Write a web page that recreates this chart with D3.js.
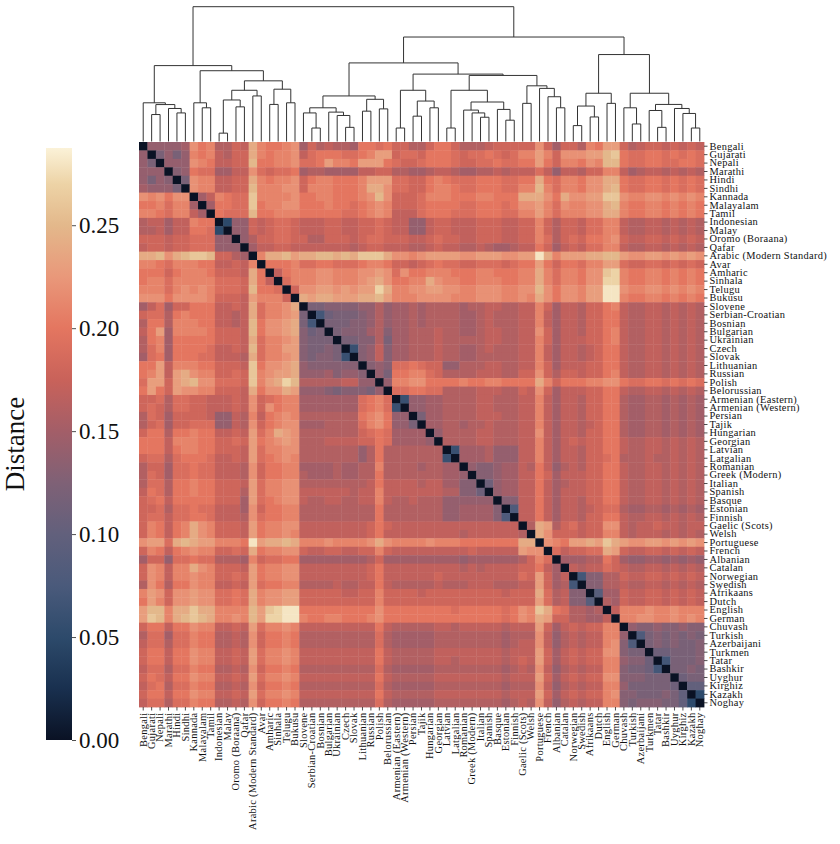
<!DOCTYPE html>
<html>
<head>
<meta charset="utf-8">
<script src="https://cdn.jsdelivr.net/npm/d3@7"></script>
<style>
  body { margin: 0; background: #fff; }
  text { font-family: "Liberation Serif", "DejaVu Serif", serif; fill: #111; }
</style>
</head>
<body>
<div id="chart"></div>
<script>
// leaf order as in the clustered heatmap
const languages = [
  "Bengali", "Gujarati", "Nepali", "Marathi", "Hindi", "Sindhi", "Kannada", "Malayalam", "Tamil",
  "Indonesian", "Malay", "Oromo (Boraana)", "Qafar", "Arabic (Modern Standard)", "Avar", "Amharic",
  "Sinhala", "Telugu", "Bukusu", "Slovene", "Serbian-Croatian", "Bosnian", "Bulgarian", "Ukrainian",
  "Czech", "Slovak", "Lithuanian", "Russian", "Polish", "Belorussian", "Armenian (Eastern)",
  "Armenian (Western)", "Persian", "Tajik", "Hungarian", "Georgian", "Latvian", "Latgalian",
  "Romanian", "Greek (Modern)", "Italian", "Spanish", "Basque", "Estonian", "Finnish",
  "Gaelic (Scots)", "Welsh", "Portuguese", "French", "Albanian", "Catalan", "Norwegian", "Swedish",
  "Afrikaans", "Dutch", "English", "German", "Chuvash", "Turkish", "Azerbaijani", "Turkmen",
  "Tatar", "Bashkir", "Uyghur", "Kirghiz", "Kazakh", "Noghay"
];

// upper triangle of the distance matrix, row i holds columns i+1..66
// one char per cell, base-36 digit = distance in hundredths (k = 0.20, p = 0.25)
const distRows = [
  "eeeef mkl gg ih ol kklm fighggf kkjk iiggik kiggghiii iimifi iglknn ighiihihih",
  "cece lkl hg ii ol kllm hjkkkjj klnn ijjikk kjijjkjij llnlim mmnnpq kjjkkjkjkj",
  "eee mlk hh ii pk kllm jjknllk nnnk jiijkk kjiijjkjj kknkil lkmlpp kjjkkjjkkj",
  "de kjj ff hh mj ijjk fggffff hhii ggffgh hgffgghgh hhjheh hgiill hfghhghghg",
  "c mll hh ii ol kllm ikllkkk lnnn jjiikl kjjjkkkjj kkokjl lkmmoo kjjkkjkjkj",
  "mll hh ii pl llmm illlkkk loom jjiikl lkjjkkkjj llpljl lkmmop kjjkkjkjkj",
  "fh lk jj ql lllm kkllkkk lmpm iiijll lkkkllkkk ooomko mmnnqq mllmmlmlml",
  "f kk jj qk llmm kkklkkj klml iiijkk kkjjkkkjk mmnljm llmmop lkkllklklk",
  "kj jj pk klll kkkkkjj klml hhhjkk kjjjkkkjj llnljl llmmoo lkkllklklk",
  "5 ee ih ijji hhhiihh iiji hheehi ihhhiiihh iiligi ihjjll hgghhghghg",
  "ee ih ijji hhhiihh iiji hheehi ihhhiiihh iiligi ihjjll hgghhghghg",
  "e gi ijji iggiiih ijji iihhij iihhiiihh iiljgi jikklm ihhiihihih",
  "fh hiih hhhhhhg hiih hhgghi hhgghgffg hhkifh ihjjll hgghhghghg",
  "l oopn ooppopo qqqo mmlmnn nnmmnnnmm nnsoln nnoopp nmmnnmnmnm",
  "kkkl jjkkjjj kllk iihijk jjiijjjij kknkik kjllnn jiijjijiji",
  "hkl llmmlll mmnm jmkkll lkkkllkkk lloljl lkmmqr lkkllklklk",
  "jl llmmlll mnom kkllom llkklllkk lloljl lkmmrr lkkllklklk",
  "i mmnnmnm nnro llmmnn mmllmmmll mmpmkm mlnnss mllmmlmlml",
  "onoonnn oopn lllmmm mlllmmmll mlomkm mlnnss lkkllklklk",
  "ccdddd eege ffgfgg ggfgghhgg hhlifh hgiikl hgghhghghg",
  "7bccc dege ffgfgg ggffghggg hhlhfh hgiikk hgghhghghg",
  "cccd dege ffgfgg ggffghggg hhlhfh hgiikk hgghhghghg",
  "cdd dfgd ffgggh ggffghhgg hhmifh hgiikl hgghhghghg",
  "cc ddgc ffgggh ggggghhgg hhlifh hhiikl hgghhghghg",
  "6 dehd ffgggh ggffghggg hhlhfh hghikk hgghhghghg",
  "dehd ffgggh ggffggggg hhlhfh hghikk hgghhghghg",
  "ded jjkjii eeggghhgg hhlifh hhiikk hgghhghghg",
  "ec kkllji gggghhhgg iimigi ihiikl hgghhghghg",
  "e llmmkk kklkkllkk kkolik kkllmm kjjkkjkjkj",
  "jjkkjj gggghhhgg ihmifh hhiikk hgghhghghg",
  "6eeff gggghhggg hhlhfh hgiikk gffggfgfgf",
  "eeff gggghhggg hhlhfh hgiikk gffggfgfgf",
  "cff gggghhhgg hhlhfh hgiikk gffggfgfgf",
  "ff ggfgghggg hhlhfh hghikk gffggfgfgf",
  "e gggghhggg hhmhfh hgiikk gffggfgfgf",
  "gggghhggg hhlhfh ihiikk hgghhghghg",
  "6fffgeee hhlhfh hgiikk hgghhghghg",
  "fffgeee hhlhfh hgiijk ggghgghghg",
  "eddeff hgkheg hgiikk hgghhghghg",
  "ddeff hhkifh hhiikk hgghhghghg",
  "beff hhkhfg hhiikk hgghhghghg",
  "eff hhkhfh hhiikk hgghhghghg",
  "dd hhkhfh hgiikk hgghhghghg",
  "8 hhkhfh hghijj gffggfgfgf",
  "hhkhfh hgiikk hgghhghghg",
  "gongi jhiimm hghhihhghh",
  "omii ihiill hghhhghghg",
  "mlk nnonqo nmmnnmnmnm",
  "jh iijjon ihhiihihih",
  "f ffggki feeffefefe",
  "hghhji hgghhghghg",
  "7ddgg ihhiihihih",
  "ddgg hgghhghghg",
  "9ff ihhiihihih",
  "gf ihhiihihih",
  "h lllmllmlll",
  "llmmllmlml",
  "eddeddedd",
  "8cdcdcdc",
  "cdcdccd",
  "bbcccd",
  "7cccd",
  "ccdc",
  "bcc",
  "aa",
  "5",
  ""
];

// agglomerative merges: [left, right, height]
// a number refers to an earlier merge, a string to a leaf
const merges = [
  ["Hindi", "Sindhi", 0.212],            // 0
  ["Marathi", 0, 0.245],                 // 1
  ["Gujarati", "Nepali", 0.200],         // 2
  [2, 1, 0.274],                         // 3
  ["Bengali", 3, 0.287],                 // 4
  ["Malayalam", "Tamil", 0.250],         // 5
  ["Kannada", 5, 0.287],                 // 6
  ["Indonesian", "Malay", 0.062],        // 7
  ["Oromo (Boraana)", "Qafar", 0.257],   // 8
  [7, 8, 0.308],                         // 9
  ["Arabic (Modern Standard)", "Avar", 0.338], // 10
  [9, 10, 0.380],                        // 11
  ["Amharic", "Sinhala", 0.275],         // 12
  ["Telugu", "Bukusu", 0.287],           // 13
  [12, 13, 0.388],                       // 14
  [11, 14, 0.450],                       // 15
  [6, 15, 0.525],                        // 16
  [4, 16, 0.563],                        // 17
  ["Serbian-Croatian", "Bosnian", 0.100],// 18
  ["Slovene", 18, 0.212],                // 19
  ["Czech", "Slovak", 0.105],            // 20
  ["Ukrainian", 20, 0.193],              // 21
  ["Bulgarian", 21, 0.218],              // 22
  [19, 22, 0.250],                       // 23
  ["Lithuanian", "Russian", 0.225],      // 24
  ["Polish", "Belorussian", 0.242],      // 25
  [24, 25, 0.313],                       // 26
  [23, 26, 0.338],                       // 27
  ["Armenian (Eastern)", "Armenian (Western)", 0.100], // 28
  ["Persian", "Tajik", 0.188],           // 29
  ["Hungarian", "Georgian", 0.250],      // 30
  [29, 30, 0.300],                       // 31
  [28, 31, 0.380],                       // 32
  ["Latvian", "Latgalian", 0.100],       // 33
  ["Italian", "Spanish", 0.180],         // 34
  ["Greek (Modern)", 34, 0.212],         // 35
  ["Romanian", 35, 0.233],               // 36
  ["Estonian", "Finnish", 0.158],        // 37
  ["Basque", 37, 0.238],                 // 38
  [36, 38, 0.293],                       // 39
  [33, 39, 0.380],                       // 40
  ["Gaelic (Scots)", "Welsh", 0.283],    // 41
  ["Albanian", "Catalan", 0.250],        // 42
  ["French", 42, 0.332],                 // 43
  ["Portuguese", 43, 0.394],             // 44
  [41, 44, 0.413],                       // 45
  [40, 45, 0.490],                       // 46
  [32, 46, 0.500],                       // 47
  [27, 47, 0.583],                       // 48
  ["Norwegian", "Swedish", 0.118],       // 49
  ["Afrikaans", "Dutch", 0.182],         // 50
  [49, 50, 0.263],                       // 51
  ["English", "German", 0.283],          // 52
  [51, 52, 0.358],                       // 53
  ["Turkish", "Azerbaijani", 0.130],     // 54
  ["Chuvash", 54, 0.250],                // 55
  ["Tatar", "Bashkir", 0.105],           // 56
  ["Turkmen", 56, 0.230],                // 57
  ["Kazakh", "Noghay", 0.100],           // 58
  ["Kirghiz", 58, 0.208],                // 59
  ["Uyghur", 59, 0.245],                 // 60
  [57, 60, 0.275],                       // 61
  [55, 61, 0.358],                       // 62
  [53, 62, 0.645],                       // 63
  [48, 63, 0.775],                       // 64
  [17, 64, 1.000]                        // 65
];

const colorStops  = [0, 0.025, 0.05, 0.075, 0.10, 0.125, 0.15, 0.175, 0.20, 0.225, 0.25, 0.27, 0.2875];
const colorValues = ["#0a1224", "#19304f", "#2d4a6b", "#4a5a7b", "#62607c", "#7f6176", "#a35e68",
                     "#c9625a", "#e47660", "#e9987a", "#e3b88b", "#edd3a6", "#fbf2d8"];
const cbTicks = [0.00, 0.05, 0.10, 0.15, 0.20, 0.25];

// ---- build the matrix ----
const n = languages.length;
const matrix = languages.map(() => new Array(n).fill(0));
distRows.forEach((row, i) => {
  const cells = row.replace(/ /g, "");
  if (cells.length !== n - 1 - i) throw new Error(`row ${i} has ${cells.length}, expected ${n - 1 - i}`);
  for (let k = 0; k < cells.length; k++) {
    const j = i + 1 + k;
    const v = parseInt(cells[k], 36) / 100;
    matrix[i][j] = v;
    matrix[j][i] = v;
  }
});
const cells = [];
matrix.forEach((row, i) => row.forEach((v, j) => cells.push({ i, j, v })));

// ---- layout ----
const W = 840, H = 844;
const hmLeft = 139, hmTop = 142, hmSize = 565;
const dendroTop = 6.7, dendroBase = 141.5;
const labelFont = "10.4px";

const svg = d3.select("#chart").append("svg")
  .attr("width", W)
  .attr("height", H);

const x = d3.scaleBand().domain(d3.range(n)).range([hmLeft, hmLeft + hmSize]);
const y = d3.scaleBand().domain(d3.range(n)).range([hmTop, hmTop + hmSize]);
const color = d3.scaleLinear().domain(colorStops).range(colorValues).clamp(true);

// heatmap cells
svg.append("g")
  .selectAll("rect")
  .data(cells)
  .join("rect")
  .attr("x", d => x(d.j))
  .attr("y", d => y(d.i))
  .attr("width", x.bandwidth() + 0.4)
  .attr("height", y.bandwidth() + 0.4)
  .attr("fill", d => color(d.v));

// row labels on the right
const rowAxis = d3.axisRight(y).tickSize(3.5).tickPadding(2).tickFormat(i => languages[i]);
const rowG = svg.append("g")
  .attr("transform", `translate(${hmLeft + hmSize},0)`)
  .call(rowAxis);
rowG.select(".domain").remove();
rowG.selectAll("line").attr("stroke", "#222").attr("stroke-width", 0.8);
rowG.selectAll("text")
  .attr("font-family", "Liberation Serif, serif")
  .attr("font-size", labelFont)
  .attr("letter-spacing", "0.3px")
  .attr("fill", "#111");

// column labels at the bottom, rotated
const colAxis = d3.axisBottom(x).tickSize(3.5).tickPadding(2).tickFormat(i => languages[i]);
const colG = svg.append("g")
  .attr("transform", `translate(0,${hmTop + hmSize})`)
  .call(colAxis);
colG.select(".domain").remove();
colG.selectAll("line").attr("stroke", "#222").attr("stroke-width", 0.8);
colG.selectAll("text")
  .attr("font-family", "Liberation Serif, serif")
  .attr("font-size", labelFont)
  .attr("letter-spacing", "0.3px")
  .attr("fill", "#111")
  .attr("text-anchor", "end")
  .attr("dy", "0.32em")
  .attr("transform", "rotate(-90)")
  .attr("x", -5.5)
  .attr("y", 0);

// ---- dendrogram ----
const hScale = d3.scaleLinear().domain([0, 1]).range([dendroBase, dendroTop]);
const nodePos = []; // {x, h}
function posOf(ref) {
  if (typeof ref === "string") {
    const idx = languages.indexOf(ref);
    return { x: x(idx) + x.bandwidth() / 2, h: 0 };
  }
  return nodePos[ref];
}
const links = [];
merges.forEach(([a, b, h]) => {
  const pa = posOf(a), pb = posOf(b);
  links.push([[pa.x, hScale(pa.h)], [pa.x, hScale(h)], [pb.x, hScale(h)], [pb.x, hScale(pb.h)]]);
  nodePos.push({ x: (pa.x + pb.x) / 2, h });
});
svg.append("g")
  .selectAll("path")
  .data(links)
  .join("path")
  .attr("d", d3.line())
  .attr("fill", "none")
  .attr("stroke", "#333")
  .attr("stroke-width", 1);

// ---- colorbar ----
const cbX = 46, cbW = 26, cbTop = 148, cbBottom = 740;
const cbScale = d3.scaleLinear().domain([0, colorStops[colorStops.length - 1]]).range([cbBottom, cbTop]);
const grad = svg.append("defs").append("linearGradient")
  .attr("id", "cbGrad")
  .attr("x1", 0).attr("y1", 1).attr("x2", 0).attr("y2", 0);
colorStops.forEach((s, k) => {
  grad.append("stop")
    .attr("offset", s / colorStops[colorStops.length - 1])
    .attr("stop-color", colorValues[k]);
});
svg.append("rect")
  .attr("x", cbX).attr("y", cbTop)
  .attr("width", cbW).attr("height", cbBottom - cbTop)
  .attr("fill", "url(#cbGrad)");

const cbAxis = d3.axisRight(cbScale).tickValues(cbTicks).tickSize(4).tickPadding(3).tickFormat(d3.format(".2f"));
const cbG = svg.append("g")
  .attr("transform", `translate(${cbX + cbW},0)`)
  .call(cbAxis);
cbG.select(".domain").remove();
cbG.selectAll("line").attr("stroke", "#222").attr("stroke-width", 0.8);
cbG.selectAll("text")
  .attr("font-family", "Liberation Serif, serif")
  .attr("font-size", "23px")
  .attr("fill", "#111");

svg.append("text")
  .attr("transform", `translate(24,${(cbTop + cbBottom) / 2}) rotate(-90)`)
  .attr("text-anchor", "middle")
  .attr("font-size", "27px")
  .text("Distance");
</script>
</body>
</html>
